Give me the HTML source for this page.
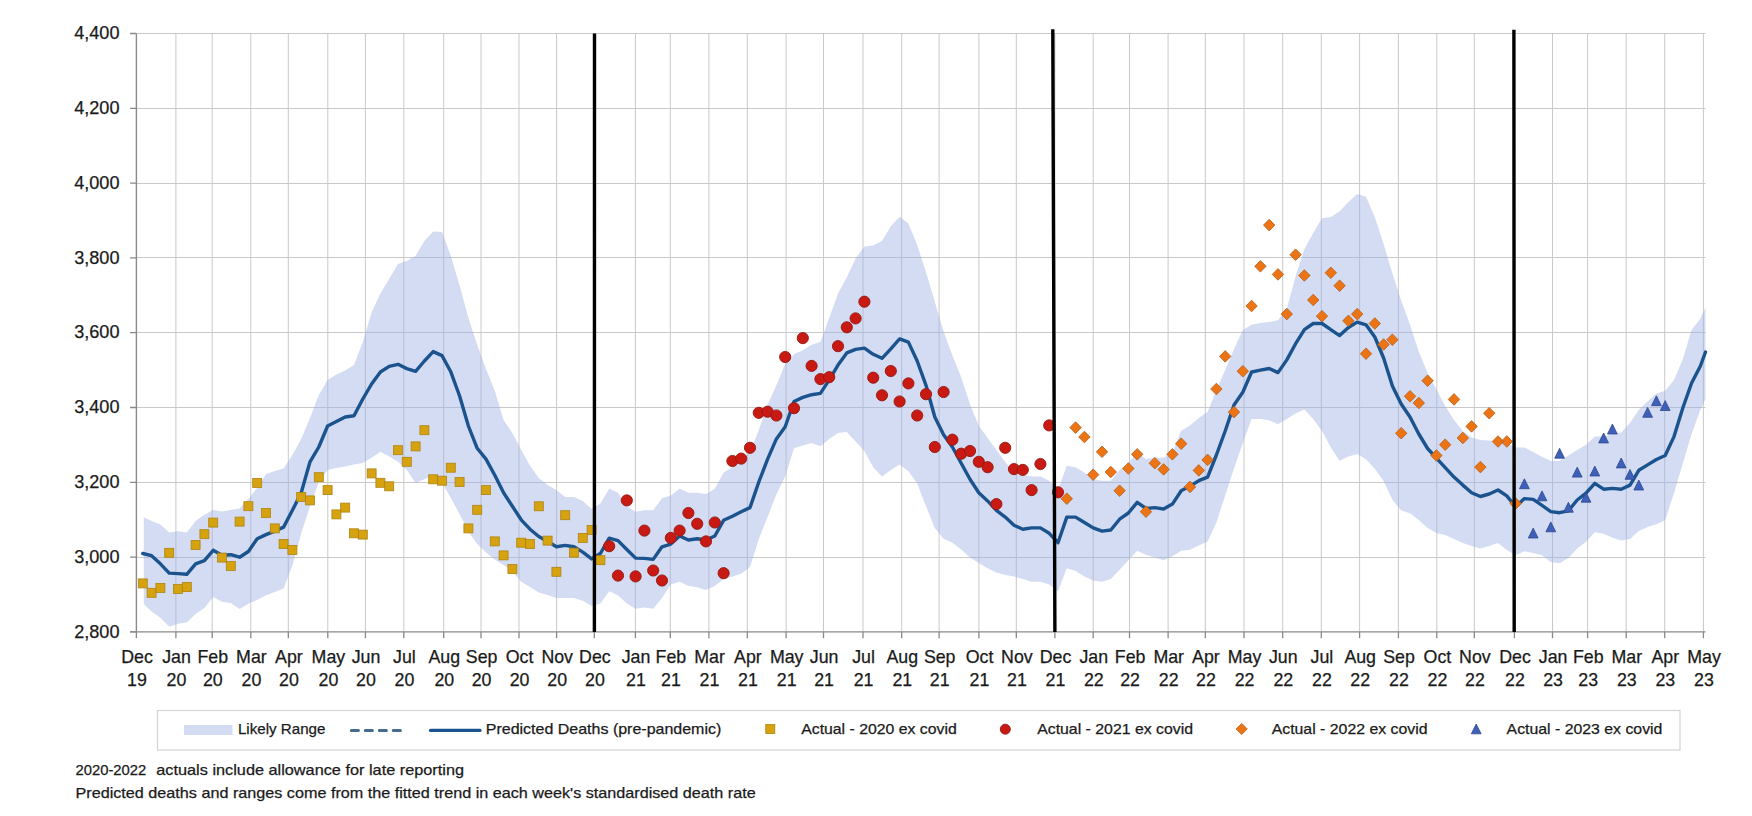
<!DOCTYPE html><html><head><meta charset="utf-8"><style>html,body{margin:0;padding:0;background:#fff;}svg{display:block;font-family:"Liberation Sans",sans-serif;}</style></head><body>
<svg width="1752" height="816" viewBox="0 0 1752 816">
<rect width="1752" height="816" fill="#fff"/>
<path d="M136.4 33.5H1705.5M136.4 108.5H1705.5M136.4 183.5H1705.5M136.4 257.5H1705.5M136.4 332.5H1705.5M136.4 407.5H1705.5M136.4 482.5H1705.5M136.4 557.5H1705.5M175.9 33.5V631.9M212.2 33.5V631.9M250.8 33.5V631.9M288.3 33.5V631.9M327.8 33.5V631.9M365.4 33.5V631.9M403.8 33.5V631.9M443.7 33.5V631.9M481.0 33.5V631.9M519.0 33.5V631.9M556.6 33.5V631.9M594.3 33.5V631.9M635.4 33.5V631.9M670.3 33.5V631.9M708.9 33.5V631.9M747.3 33.5V631.9M786.1 33.5V631.9M823.5 33.5V631.9M863.0 33.5V631.9M901.7 33.5V631.9M939.1 33.5V631.9M978.9 33.5V631.9M1016.3 33.5V631.9M1054.9 33.5V631.9M1093.2 33.5V631.9M1129.5 33.5V631.9M1168.1 33.5V631.9M1205.3 33.5V631.9M1244.0 33.5V631.9M1282.7 33.5V631.9M1321.3 33.5V631.9M1359.6 33.5V631.9M1398.4 33.5V631.9M1436.8 33.5V631.9M1474.3 33.5V631.9M1514.4 33.5V631.9M1552.5 33.5V631.9M1587.6 33.5V631.9M1626.2 33.5V631.9M1664.7 33.5V631.9M1703.4 33.5V631.9" stroke="#c9c9c9" stroke-width="1" fill="none"/>
<path d="M143.8 517.2 L151.6 520.9 L160.4 524.6 L169.2 532.6 L178.0 531.2 L186.8 532.6 L195.6 520.9 L204.4 514.8 L213.2 509.9 L222.0 511.6 L230.8 509.9 L239.6 508.6 L248.4 499.0 L257.2 488.0 L266.0 474.0 L274.8 471.0 L283.6 468.5 L292.4 455.0 L301.2 438.9 L310.0 418.0 L318.8 395.0 L327.6 380.0 L336.4 374.5 L345.2 370.5 L354.0 365.0 L362.8 342.0 L371.6 312.5 L380.4 293.6 L389.2 278.8 L398.0 264.0 L406.8 261.0 L415.6 255.8 L424.4 241.0 L433.2 231.6 L442.0 232.0 L450.8 255.8 L459.6 285.5 L468.4 317.9 L477.2 344.8 L486.0 369.0 L494.8 390.7 L503.6 420.0 L512.4 433.0 L521.2 449.7 L530.0 465.8 L538.8 478.0 L547.6 485.0 L556.4 490.1 L565.2 496.9 L574.0 496.9 L582.8 500.9 L591.6 509.0 L600.4 503.6 L609.2 488.8 L618.0 492.8 L626.8 506.3 L635.6 511.7 L644.4 510.3 L653.2 510.3 L662.0 498.2 L670.8 495.5 L679.6 488.8 L688.4 492.8 L697.2 492.8 L706.0 494.2 L714.8 488.8 L723.6 472.6 L732.4 467.2 L741.2 457.8 L750.0 452.4 L758.8 430.0 L767.6 405.0 L776.4 385.3 L785.2 363.7 L794.0 354.3 L802.8 350.2 L811.6 344.8 L820.4 342.1 L829.2 317.9 L838.0 293.6 L846.8 277.4 L855.6 258.5 L864.4 246.4 L873.2 245.6 L882.0 241.0 L890.8 226.2 L899.6 216.7 L908.4 223.5 L917.2 245.1 L926.0 272.0 L934.8 301.7 L943.6 331.4 L952.4 355.6 L961.2 377.2 L970.0 404.2 L978.8 425.7 L987.6 438.0 L996.4 450.0 L1005.2 462.0 L1014.0 472.6 L1022.8 475.3 L1031.6 476.6 L1040.4 476.6 L1049.2 480.7 L1058.0 490.1 L1066.8 465.8 L1075.6 467.2 L1084.4 472.6 L1093.2 479.3 L1102.0 480.7 L1110.8 480.7 L1119.6 469.9 L1128.4 463.2 L1137.2 452.4 L1146.0 459.1 L1154.8 457.8 L1163.6 457.8 L1172.4 452.4 L1181.2 430.8 L1190.0 425.4 L1198.8 418.0 L1207.6 412.1 L1216.4 390.0 L1225.2 370.0 L1234.0 349.1 L1242.8 330.0 L1251.6 324.8 L1260.4 323.0 L1269.2 322.0 L1278.0 320.3 L1286.8 308.7 L1295.6 276.3 L1304.4 249.3 L1313.2 233.1 L1322.0 218.3 L1330.8 217.0 L1339.6 211.6 L1348.4 202.1 L1357.2 194.0 L1366.0 196.7 L1374.8 217.0 L1383.6 243.9 L1392.4 273.6 L1401.2 300.6 L1410.0 324.8 L1418.8 351.8 L1427.6 373.0 L1436.4 389.4 L1445.2 406.0 L1454.0 420.0 L1462.8 431.0 L1471.6 437.5 L1480.4 440.0 L1489.2 440.5 L1498.0 441.5 L1506.8 443.0 L1515.6 447.4 L1524.4 447.4 L1533.2 452.0 L1542.0 456.8 L1550.8 460.9 L1559.6 460.9 L1568.4 455.5 L1577.2 450.1 L1586.0 444.7 L1594.8 436.6 L1603.6 436.6 L1612.4 433.9 L1621.2 432.6 L1630.0 423.1 L1638.8 409.7 L1647.6 401.6 L1656.4 393.5 L1665.2 390.8 L1674.0 380.0 L1682.8 358.9 L1691.6 330.0 L1700.4 318.6 L1705.5 307.5 L1705.5 399.0 L1700.4 409.7 L1691.6 433.9 L1682.8 463.6 L1674.0 493.2 L1665.2 520.2 L1656.4 524.2 L1647.6 527.0 L1638.8 531.0 L1630.0 539.1 L1621.2 540.4 L1612.4 537.7 L1603.6 533.7 L1594.8 532.3 L1586.0 541.8 L1577.2 548.5 L1568.4 558.0 L1559.6 563.3 L1550.8 562.0 L1542.0 555.2 L1533.2 553.0 L1524.4 551.2 L1515.6 555.2 L1506.8 550.0 L1498.0 543.1 L1489.2 546.0 L1480.4 548.5 L1471.6 546.0 L1462.8 543.1 L1454.0 539.0 L1445.2 535.0 L1436.4 533.0 L1427.6 528.1 L1418.8 520.0 L1410.0 513.3 L1401.2 510.6 L1392.4 499.8 L1383.6 480.9 L1374.8 468.8 L1366.0 459.3 L1357.2 453.9 L1348.4 456.6 L1339.6 460.7 L1330.8 447.2 L1322.0 431.0 L1313.2 418.9 L1304.4 409.4 L1295.6 413.5 L1286.8 418.9 L1278.0 424.3 L1269.2 420.2 L1260.4 418.9 L1251.6 419.0 L1242.8 443.0 L1234.0 468.5 L1225.2 495.5 L1216.4 522.5 L1207.6 541.4 L1198.8 545.4 L1190.0 549.7 L1181.2 550.8 L1172.4 556.2 L1163.6 560.2 L1154.8 557.5 L1146.0 554.8 L1137.2 550.8 L1128.4 560.2 L1119.6 569.7 L1110.8 579.1 L1102.0 581.8 L1093.2 580.5 L1084.4 576.4 L1075.6 571.0 L1066.8 568.3 L1058.0 591.2 L1049.2 584.5 L1040.4 581.8 L1031.6 581.8 L1022.8 579.1 L1014.0 576.4 L1005.2 575.0 L996.4 572.4 L987.6 568.3 L978.8 562.9 L970.0 557.5 L961.2 549.5 L952.4 542.7 L943.6 538.7 L934.8 527.9 L926.0 506.3 L917.2 483.4 L908.4 471.2 L899.6 464.5 L890.8 469.9 L882.0 476.6 L873.2 467.2 L864.4 451.0 L855.6 441.6 L846.8 432.1 L838.0 432.9 L829.2 438.9 L820.4 446.2 L811.6 442.9 L802.8 445.6 L794.0 448.3 L785.2 476.6 L776.4 494.2 L767.6 517.1 L758.8 539.0 L750.0 567.0 L741.2 573.7 L732.4 576.4 L723.6 579.1 L714.8 585.9 L706.0 589.9 L697.2 587.2 L688.4 585.9 L679.6 581.8 L670.8 584.5 L662.0 598.0 L653.2 608.8 L644.4 607.4 L635.6 608.8 L626.8 603.4 L618.0 595.3 L609.2 591.2 L600.4 603.4 L591.6 606.0 L582.8 600.7 L574.0 598.0 L565.2 598.0 L556.4 598.0 L547.6 595.0 L538.8 592.6 L530.0 587.0 L521.2 581.8 L512.4 571.5 L503.6 565.0 L494.8 559.5 L486.0 552.5 L477.2 544.0 L468.4 531.4 L459.6 514.0 L450.8 498.0 L442.0 482.0 L433.2 475.3 L424.4 479.3 L415.6 483.0 L406.8 470.0 L398.0 461.8 L389.2 456.4 L380.4 451.8 L371.6 457.8 L362.8 463.0 L354.0 464.5 L345.2 466.4 L336.4 468.0 L327.6 470.0 L318.8 482.0 L310.0 506.3 L301.2 533.3 L292.4 565.6 L283.6 588.6 L274.8 592.0 L266.0 595.3 L257.2 600.0 L248.4 603.7 L239.6 609.1 L230.8 603.0 L222.0 601.8 L213.2 596.9 L204.4 607.9 L195.6 614.0 L186.8 622.6 L178.0 623.8 L169.2 626.8 L160.4 617.7 L151.6 611.6 L143.8 604.2 Z" fill="#9bafe1" fill-opacity="0.44"/>
<path d="M136.4 33.5V631.9 M130 631.9H1705.5" stroke="#8a8a8a" stroke-width="1.4" fill="none"/>
<path d="M130 33.5H136.4M130 108.3H136.4M130 183.1H136.4M130 257.9H136.4M130 332.7H136.4M130 407.5H136.4M130 482.3H136.4M130 557.1H136.4M130 631.9H136.4M136.4 631.9V638.3M175.9 631.9V638.3M212.2 631.9V638.3M250.8 631.9V638.3M288.3 631.9V638.3M327.8 631.9V638.3M365.4 631.9V638.3M403.8 631.9V638.3M443.7 631.9V638.3M481.0 631.9V638.3M519.0 631.9V638.3M556.6 631.9V638.3M594.3 631.9V638.3M635.4 631.9V638.3M670.3 631.9V638.3M708.9 631.9V638.3M747.3 631.9V638.3M786.1 631.9V638.3M823.5 631.9V638.3M863.0 631.9V638.3M901.7 631.9V638.3M939.1 631.9V638.3M978.9 631.9V638.3M1016.3 631.9V638.3M1054.9 631.9V638.3M1093.2 631.9V638.3M1129.5 631.9V638.3M1168.1 631.9V638.3M1205.3 631.9V638.3M1244.0 631.9V638.3M1282.7 631.9V638.3M1321.3 631.9V638.3M1359.6 631.9V638.3M1398.4 631.9V638.3M1436.8 631.9V638.3M1474.3 631.9V638.3M1514.4 631.9V638.3M1552.5 631.9V638.3M1587.6 631.9V638.3M1626.2 631.9V638.3M1664.7 631.9V638.3M1703.4 631.9V638.3" stroke="#8a8a8a" stroke-width="1.3" fill="none"/>
<path d="M142.8 553.5 L151.6 555.7 L160.4 563.8 L169.2 573.1 L178.0 573.6 L186.8 574.3 L195.6 563.8 L204.4 560.6 L213.2 550.3 L222.0 555.2 L230.8 554.7 L239.6 557.2 L248.4 551.5 L257.2 538.7 L266.0 534.6 L274.8 531.1 L283.6 527.1 L292.4 510.3 L301.2 492.8 L310.0 461.8 L318.8 447.0 L327.6 426.0 L336.4 421.5 L345.2 417.0 L354.0 415.8 L362.8 399.0 L371.6 384.0 L380.4 372.0 L389.2 366.4 L398.0 364.3 L406.8 368.6 L415.6 371.3 L424.4 361.0 L433.2 351.6 L442.0 355.6 L450.8 371.8 L459.6 396.0 L468.4 426.0 L477.2 448.3 L486.0 459.1 L494.8 475.3 L503.6 492.8 L512.4 506.3 L521.2 519.8 L530.0 529.2 L538.8 536.5 L547.6 541.4 L556.4 546.8 L565.2 545.4 L574.0 546.8 L582.8 552.1 L591.6 558.9 L600.4 553.5 L609.2 538.1 L618.0 540.6 L626.8 549.5 L635.6 558.1 L644.4 558.4 L653.2 559.4 L662.0 546.8 L670.8 544.1 L679.6 536.0 L688.4 540.0 L697.2 538.7 L706.0 540.0 L714.8 536.0 L723.6 520.3 L732.4 516.3 L741.2 511.7 L750.0 507.6 L758.8 482.0 L767.6 459.1 L776.4 438.9 L785.2 426.7 L794.0 401.5 L802.8 397.4 L811.6 394.7 L820.4 393.4 L829.2 379.9 L838.0 365.1 L846.8 352.9 L855.6 349.4 L864.4 348.1 L873.2 354.3 L882.0 358.3 L890.8 348.9 L899.6 338.9 L908.4 342.1 L917.2 361.0 L926.0 385.3 L934.8 417.0 L943.6 434.8 L952.4 447.0 L961.2 463.2 L970.0 479.3 L978.8 492.8 L987.6 500.9 L996.4 510.3 L1005.2 517.1 L1014.0 525.2 L1022.8 529.2 L1031.6 527.9 L1040.4 527.9 L1049.2 533.3 L1058.0 542.7 L1066.8 517.1 L1075.6 517.1 L1084.4 522.5 L1093.2 527.9 L1102.0 531.1 L1110.8 530.0 L1119.6 519.2 L1128.4 513.0 L1137.2 502.3 L1146.0 508.5 L1154.8 507.6 L1163.6 509.0 L1172.4 504.1 L1181.2 490.7 L1190.0 486.1 L1198.8 480.7 L1207.6 477.2 L1216.4 455.0 L1225.2 431.0 L1234.0 405.0 L1242.8 392.3 L1251.6 372.0 L1260.4 370.2 L1269.2 368.5 L1278.0 372.6 L1286.8 359.9 L1295.6 343.7 L1304.4 329.7 L1313.2 323.5 L1322.0 323.5 L1330.8 329.7 L1339.6 335.6 L1348.4 327.5 L1357.2 322.1 L1366.0 324.8 L1374.8 337.0 L1383.6 358.0 L1392.4 386.0 L1401.2 404.0 L1410.0 417.0 L1418.8 434.0 L1427.6 448.5 L1436.4 458.2 L1445.2 467.6 L1454.0 477.1 L1462.8 485.1 L1471.6 492.7 L1480.4 496.5 L1489.2 494.0 L1498.0 490.0 L1506.8 495.9 L1515.6 506.7 L1524.4 498.6 L1533.2 499.4 L1542.0 505.4 L1550.8 511.6 L1559.6 512.7 L1568.4 510.8 L1577.2 500.0 L1586.0 493.2 L1594.8 483.3 L1603.6 489.2 L1612.4 488.4 L1621.2 489.2 L1630.0 485.1 L1638.8 470.3 L1647.6 464.9 L1656.4 459.5 L1665.2 455.5 L1674.0 436.6 L1682.8 408.0 L1691.6 383.0 L1700.4 366.0 L1705.5 352.0" stroke="#1b538e" stroke-width="3.4" fill="none" stroke-linejoin="round" stroke-linecap="round"/>
<g fill="#d6a210" stroke="#ad8412" stroke-width="0.8"><rect x="138.3" y="578.9" width="9" height="9"/><rect x="147.1" y="588.3" width="9" height="9"/><rect x="155.9" y="583.4" width="9" height="9"/><rect x="164.7" y="548.3" width="9" height="9"/><rect x="173.5" y="584.6" width="9" height="9"/><rect x="182.3" y="582.6" width="9" height="9"/><rect x="191.1" y="540.5" width="9" height="9"/><rect x="199.9" y="529.7" width="9" height="9"/><rect x="208.7" y="518.1" width="9" height="9"/><rect x="217.5" y="553.1" width="9" height="9"/><rect x="226.3" y="561.5" width="9" height="9"/><rect x="235.1" y="517.1" width="9" height="9"/><rect x="243.9" y="501.7" width="9" height="9"/><rect x="252.7" y="478.4" width="9" height="9"/><rect x="261.5" y="508.5" width="9" height="9"/><rect x="270.3" y="523.9" width="9" height="9"/><rect x="279.1" y="539.5" width="9" height="9"/><rect x="287.9" y="545.5" width="9" height="9"/><rect x="296.7" y="492.4" width="9" height="9"/><rect x="305.5" y="495.9" width="9" height="9"/><rect x="314.3" y="472.7" width="9" height="9"/><rect x="323.1" y="485.6" width="9" height="9"/><rect x="331.9" y="509.9" width="9" height="9"/><rect x="340.7" y="503.1" width="9" height="9"/><rect x="349.5" y="528.8" width="9" height="9"/><rect x="358.3" y="530.1" width="9" height="9"/><rect x="367.1" y="468.9" width="9" height="9"/><rect x="375.9" y="478.3" width="9" height="9"/><rect x="384.7" y="481.8" width="9" height="9"/><rect x="393.5" y="445.7" width="9" height="9"/><rect x="402.3" y="457.3" width="9" height="9"/><rect x="411.1" y="441.9" width="9" height="9"/><rect x="419.9" y="425.7" width="9" height="9"/><rect x="428.7" y="474.8" width="9" height="9"/><rect x="437.5" y="476.2" width="9" height="9"/><rect x="446.3" y="463.2" width="9" height="9"/><rect x="455.1" y="477.5" width="9" height="9"/><rect x="463.9" y="523.9" width="9" height="9"/><rect x="472.7" y="505.3" width="9" height="9"/><rect x="481.5" y="485.6" width="9" height="9"/><rect x="490.3" y="536.9" width="9" height="9"/><rect x="499.1" y="550.9" width="9" height="9"/><rect x="507.9" y="564.6" width="9" height="9"/><rect x="516.7" y="538.2" width="9" height="9"/><rect x="525.5" y="539.6" width="9" height="9"/><rect x="534.3" y="501.8" width="9" height="9"/><rect x="543.1" y="536.1" width="9" height="9"/><rect x="551.9" y="567.3" width="9" height="9"/><rect x="560.7" y="510.7" width="9" height="9"/><rect x="569.5" y="548.2" width="9" height="9"/><rect x="578.3" y="533.4" width="9" height="9"/><rect x="587.1" y="525.5" width="9" height="9"/><rect x="595.9" y="555.7" width="9" height="9"/></g>
<g fill="#c81a12" stroke="#921812" stroke-width="0.9"><circle cx="609.2" cy="546.2" r="5.6"/><circle cx="618.0" cy="575.6" r="5.6"/><circle cx="626.8" cy="500.4" r="5.6"/><circle cx="635.6" cy="576.4" r="5.6"/><circle cx="644.4" cy="530.6" r="5.6"/><circle cx="653.2" cy="570.5" r="5.6"/><circle cx="662.0" cy="580.5" r="5.6"/><circle cx="670.8" cy="537.9" r="5.6"/><circle cx="679.6" cy="530.6" r="5.6"/><circle cx="688.4" cy="513.0" r="5.6"/><circle cx="697.2" cy="523.8" r="5.6"/><circle cx="706.0" cy="541.4" r="5.6"/><circle cx="714.8" cy="522.5" r="5.6"/><circle cx="723.6" cy="573.2" r="5.6"/><circle cx="732.4" cy="461.0" r="5.6"/><circle cx="741.2" cy="458.6" r="5.6"/><circle cx="750.0" cy="447.8" r="5.6"/><circle cx="758.8" cy="412.8" r="5.6"/><circle cx="767.6" cy="411.7" r="5.6"/><circle cx="776.4" cy="415.5" r="5.6"/><circle cx="785.2" cy="357.0" r="5.6"/><circle cx="794.0" cy="408.2" r="5.6"/><circle cx="802.8" cy="338.1" r="5.6"/><circle cx="811.6" cy="365.9" r="5.6"/><circle cx="820.4" cy="379.1" r="5.6"/><circle cx="829.2" cy="377.2" r="5.6"/><circle cx="838.0" cy="346.2" r="5.6"/><circle cx="846.8" cy="327.3" r="5.6"/><circle cx="855.6" cy="318.4" r="5.6"/><circle cx="864.4" cy="301.7" r="5.6"/><circle cx="873.2" cy="377.7" r="5.6"/><circle cx="882.0" cy="395.3" r="5.6"/><circle cx="890.8" cy="371.0" r="5.6"/><circle cx="899.6" cy="401.5" r="5.6"/><circle cx="908.4" cy="383.4" r="5.6"/><circle cx="917.2" cy="415.5" r="5.6"/><circle cx="926.0" cy="394.2" r="5.6"/><circle cx="934.8" cy="447.0" r="5.6"/><circle cx="943.6" cy="392.0" r="5.6"/><circle cx="952.4" cy="439.7" r="5.6"/><circle cx="961.2" cy="453.7" r="5.6"/><circle cx="970.0" cy="451.0" r="5.6"/><circle cx="978.8" cy="461.8" r="5.6"/><circle cx="987.6" cy="467.2" r="5.6"/><circle cx="996.4" cy="504.1" r="5.6"/><circle cx="1005.2" cy="447.8" r="5.6"/><circle cx="1014.0" cy="469.1" r="5.6"/><circle cx="1022.8" cy="469.9" r="5.6"/><circle cx="1031.6" cy="490.1" r="5.6"/><circle cx="1040.4" cy="464.0" r="5.6"/><circle cx="1049.2" cy="425.4" r="5.6"/><circle cx="1058.0" cy="492.3" r="5.6"/></g>
<path d="M1066.8 492.9L1072.5 498.7L1066.8 504.5L1061.1 498.7ZM1075.6 421.8L1081.3 427.6L1075.6 433.4L1069.9 427.6ZM1084.4 431.2L1090.1 437.0L1084.4 442.8L1078.7 437.0ZM1093.2 468.9L1098.9 474.7L1093.2 480.5L1087.5 474.7ZM1102.0 446.0L1107.7 451.8L1102.0 457.6L1096.3 451.8ZM1110.8 466.2L1116.5 472.0L1110.8 477.8L1105.1 472.0ZM1119.6 484.9L1125.3 490.7L1119.6 496.5L1113.9 490.7ZM1128.4 462.7L1134.1 468.5L1128.4 474.3L1122.7 468.5ZM1137.2 448.5L1142.9 454.3L1137.2 460.1L1131.5 454.3ZM1146.0 505.9L1151.7 511.7L1146.0 517.5L1140.3 511.7ZM1154.8 457.4L1160.5 463.2L1154.8 469.0L1149.1 463.2ZM1163.6 463.6L1169.3 469.4L1163.6 475.2L1157.9 469.4ZM1172.4 448.5L1178.1 454.3L1172.4 460.1L1166.7 454.3ZM1181.2 437.9L1186.9 443.7L1181.2 449.5L1175.5 443.7ZM1190.0 481.1L1195.7 486.9L1190.0 492.7L1184.3 486.9ZM1198.8 464.6L1204.5 470.4L1198.8 476.2L1193.1 470.4ZM1207.6 454.1L1213.3 459.9L1207.6 465.7L1201.9 459.9ZM1216.4 383.2L1222.1 389.0L1216.4 394.8L1210.7 389.0ZM1225.2 350.6L1230.9 356.4L1225.2 362.2L1219.5 356.4ZM1234.0 406.3L1239.7 412.1L1234.0 417.9L1228.3 412.1ZM1242.8 365.4L1248.5 371.2L1242.8 377.0L1237.1 371.2ZM1251.6 300.2L1257.3 306.0L1251.6 311.8L1245.9 306.0ZM1260.4 260.5L1266.1 266.3L1260.4 272.1L1254.7 266.3ZM1269.2 219.3L1274.9 225.1L1269.2 230.9L1263.5 225.1ZM1278.0 268.6L1283.7 274.4L1278.0 280.2L1272.3 274.4ZM1286.8 308.3L1292.5 314.1L1286.8 319.9L1281.1 314.1ZM1295.6 248.9L1301.3 254.7L1295.6 260.5L1289.9 254.7ZM1304.4 269.7L1310.1 275.5L1304.4 281.3L1298.7 275.5ZM1313.2 294.2L1318.9 300.0L1313.2 305.8L1307.5 300.0ZM1322.0 310.4L1327.7 316.2L1322.0 322.0L1316.3 316.2ZM1330.8 267.0L1336.5 272.8L1330.8 278.6L1325.1 272.8ZM1339.6 279.9L1345.3 285.7L1339.6 291.5L1333.9 285.7ZM1348.4 315.0L1354.1 320.8L1348.4 326.6L1342.7 320.8ZM1357.2 308.3L1362.9 314.1L1357.2 319.9L1351.5 314.1ZM1366.0 347.9L1371.7 353.7L1366.0 359.5L1360.3 353.7ZM1374.8 317.7L1380.5 323.5L1374.8 329.3L1369.1 323.5ZM1383.6 338.7L1389.3 344.5L1383.6 350.3L1377.9 344.5ZM1392.4 333.9L1398.1 339.7L1392.4 345.5L1386.7 339.7ZM1401.2 427.4L1406.9 433.2L1401.2 439.0L1395.5 433.2ZM1410.0 390.5L1415.7 396.3L1410.0 402.1L1404.3 396.3ZM1418.8 397.2L1424.5 403.0L1418.8 408.8L1413.1 403.0ZM1427.6 374.9L1433.3 380.7L1427.6 386.5L1421.9 380.7ZM1436.4 449.7L1442.1 455.5L1436.4 461.3L1430.7 455.5ZM1445.2 438.9L1450.9 444.7L1445.2 450.5L1439.5 444.7ZM1454.0 393.6L1459.7 399.4L1454.0 405.2L1448.3 399.4ZM1462.8 432.2L1468.5 438.0L1462.8 443.8L1457.1 438.0ZM1471.6 420.6L1477.3 426.4L1471.6 432.2L1465.9 426.4ZM1480.4 461.3L1486.1 467.1L1480.4 472.9L1474.7 467.1ZM1489.2 407.4L1494.9 413.2L1489.2 419.0L1483.5 413.2ZM1498.0 435.7L1503.7 441.5L1498.0 447.3L1492.3 441.5ZM1506.8 435.7L1512.5 441.5L1506.8 447.3L1501.1 441.5ZM1515.6 497.7L1521.3 503.5L1515.6 509.3L1509.9 503.5Z" fill="#ec7414" stroke="#b35e1c" stroke-width="0.8" stroke-linejoin="miter"/>
<path d="M1524.4 478.8L1529.3 488.7L1519.5 488.7ZM1533.2 528.1L1538.1 538.0L1528.3 538.0ZM1542.0 490.9L1546.9 500.8L1537.1 500.8ZM1550.8 521.9L1555.7 531.8L1545.9 531.8ZM1559.6 448.3L1564.5 458.2L1554.7 458.2ZM1568.4 502.3L1573.3 512.2L1563.5 512.2ZM1577.2 467.2L1582.1 477.1L1572.3 477.1ZM1586.0 492.3L1590.9 502.2L1581.1 502.2ZM1594.8 466.1L1599.7 476.0L1589.9 476.0ZM1603.6 433.0L1608.5 442.9L1598.7 442.9ZM1612.4 424.1L1617.3 434.0L1607.5 434.0ZM1621.2 458.0L1626.1 467.9L1616.3 467.9ZM1630.0 469.4L1634.9 479.3L1625.1 479.3ZM1638.8 480.1L1643.7 490.0L1633.9 490.0ZM1647.6 407.4L1652.5 417.3L1642.7 417.3ZM1656.4 395.8L1661.3 405.7L1651.5 405.7ZM1665.2 400.6L1670.1 410.5L1660.3 410.5Z" fill="#3e60b9" stroke="#2c478f" stroke-width="0.8" stroke-linejoin="miter"/>
<path d="M594.5 33.4L594.4 632M1052.8 29.2L1054.9 632M1513.9 29.7L1514.2 632" stroke="#000" stroke-width="3.4" fill="none"/>
<text x="119.5" y="39.2" font-size="18.1" fill="#1a1a1a" stroke="#1a1a1a" stroke-width="0.25" text-anchor="end">4,400</text>
<text x="119.5" y="114.0" font-size="18.1" fill="#1a1a1a" stroke="#1a1a1a" stroke-width="0.25" text-anchor="end">4,200</text>
<text x="119.5" y="188.8" font-size="18.1" fill="#1a1a1a" stroke="#1a1a1a" stroke-width="0.25" text-anchor="end">4,000</text>
<text x="119.5" y="263.6" font-size="18.1" fill="#1a1a1a" stroke="#1a1a1a" stroke-width="0.25" text-anchor="end">3,800</text>
<text x="119.5" y="338.4" font-size="18.1" fill="#1a1a1a" stroke="#1a1a1a" stroke-width="0.25" text-anchor="end">3,600</text>
<text x="119.5" y="413.2" font-size="18.1" fill="#1a1a1a" stroke="#1a1a1a" stroke-width="0.25" text-anchor="end">3,400</text>
<text x="119.5" y="488.0" font-size="18.1" fill="#1a1a1a" stroke="#1a1a1a" stroke-width="0.25" text-anchor="end">3,200</text>
<text x="119.5" y="562.8" font-size="18.1" fill="#1a1a1a" stroke="#1a1a1a" stroke-width="0.25" text-anchor="end">3,000</text>
<text x="119.5" y="637.6" font-size="18.1" fill="#1a1a1a" stroke="#1a1a1a" stroke-width="0.25" text-anchor="end">2,800</text>
<text x="137.0" y="663" font-size="17.8" fill="#1a1a1a" stroke="#1a1a1a" stroke-width="0.25" text-anchor="middle">Dec</text>
<text x="137.0" y="685.6" font-size="17.8" fill="#1a1a1a" stroke="#1a1a1a" stroke-width="0.25" text-anchor="middle">19</text>
<text x="176.5" y="663" font-size="17.8" fill="#1a1a1a" stroke="#1a1a1a" stroke-width="0.25" text-anchor="middle">Jan</text>
<text x="176.5" y="685.6" font-size="17.8" fill="#1a1a1a" stroke="#1a1a1a" stroke-width="0.25" text-anchor="middle">20</text>
<text x="212.8" y="663" font-size="17.8" fill="#1a1a1a" stroke="#1a1a1a" stroke-width="0.25" text-anchor="middle">Feb</text>
<text x="212.8" y="685.6" font-size="17.8" fill="#1a1a1a" stroke="#1a1a1a" stroke-width="0.25" text-anchor="middle">20</text>
<text x="251.4" y="663" font-size="17.8" fill="#1a1a1a" stroke="#1a1a1a" stroke-width="0.25" text-anchor="middle">Mar</text>
<text x="251.4" y="685.6" font-size="17.8" fill="#1a1a1a" stroke="#1a1a1a" stroke-width="0.25" text-anchor="middle">20</text>
<text x="288.9" y="663" font-size="17.8" fill="#1a1a1a" stroke="#1a1a1a" stroke-width="0.25" text-anchor="middle">Apr</text>
<text x="288.9" y="685.6" font-size="17.8" fill="#1a1a1a" stroke="#1a1a1a" stroke-width="0.25" text-anchor="middle">20</text>
<text x="328.4" y="663" font-size="17.8" fill="#1a1a1a" stroke="#1a1a1a" stroke-width="0.25" text-anchor="middle">May</text>
<text x="328.4" y="685.6" font-size="17.8" fill="#1a1a1a" stroke="#1a1a1a" stroke-width="0.25" text-anchor="middle">20</text>
<text x="366.0" y="663" font-size="17.8" fill="#1a1a1a" stroke="#1a1a1a" stroke-width="0.25" text-anchor="middle">Jun</text>
<text x="366.0" y="685.6" font-size="17.8" fill="#1a1a1a" stroke="#1a1a1a" stroke-width="0.25" text-anchor="middle">20</text>
<text x="404.4" y="663" font-size="17.8" fill="#1a1a1a" stroke="#1a1a1a" stroke-width="0.25" text-anchor="middle">Jul</text>
<text x="404.4" y="685.6" font-size="17.8" fill="#1a1a1a" stroke="#1a1a1a" stroke-width="0.25" text-anchor="middle">20</text>
<text x="444.3" y="663" font-size="17.8" fill="#1a1a1a" stroke="#1a1a1a" stroke-width="0.25" text-anchor="middle">Aug</text>
<text x="444.3" y="685.6" font-size="17.8" fill="#1a1a1a" stroke="#1a1a1a" stroke-width="0.25" text-anchor="middle">20</text>
<text x="481.6" y="663" font-size="17.8" fill="#1a1a1a" stroke="#1a1a1a" stroke-width="0.25" text-anchor="middle">Sep</text>
<text x="481.6" y="685.6" font-size="17.8" fill="#1a1a1a" stroke="#1a1a1a" stroke-width="0.25" text-anchor="middle">20</text>
<text x="519.6" y="663" font-size="17.8" fill="#1a1a1a" stroke="#1a1a1a" stroke-width="0.25" text-anchor="middle">Oct</text>
<text x="519.6" y="685.6" font-size="17.8" fill="#1a1a1a" stroke="#1a1a1a" stroke-width="0.25" text-anchor="middle">20</text>
<text x="557.2" y="663" font-size="17.8" fill="#1a1a1a" stroke="#1a1a1a" stroke-width="0.25" text-anchor="middle">Nov</text>
<text x="557.2" y="685.6" font-size="17.8" fill="#1a1a1a" stroke="#1a1a1a" stroke-width="0.25" text-anchor="middle">20</text>
<text x="594.9" y="663" font-size="17.8" fill="#1a1a1a" stroke="#1a1a1a" stroke-width="0.25" text-anchor="middle">Dec</text>
<text x="594.9" y="685.6" font-size="17.8" fill="#1a1a1a" stroke="#1a1a1a" stroke-width="0.25" text-anchor="middle">20</text>
<text x="636.0" y="663" font-size="17.8" fill="#1a1a1a" stroke="#1a1a1a" stroke-width="0.25" text-anchor="middle">Jan</text>
<text x="636.0" y="685.6" font-size="17.8" fill="#1a1a1a" stroke="#1a1a1a" stroke-width="0.25" text-anchor="middle">21</text>
<text x="670.9" y="663" font-size="17.8" fill="#1a1a1a" stroke="#1a1a1a" stroke-width="0.25" text-anchor="middle">Feb</text>
<text x="670.9" y="685.6" font-size="17.8" fill="#1a1a1a" stroke="#1a1a1a" stroke-width="0.25" text-anchor="middle">21</text>
<text x="709.5" y="663" font-size="17.8" fill="#1a1a1a" stroke="#1a1a1a" stroke-width="0.25" text-anchor="middle">Mar</text>
<text x="709.5" y="685.6" font-size="17.8" fill="#1a1a1a" stroke="#1a1a1a" stroke-width="0.25" text-anchor="middle">21</text>
<text x="747.9" y="663" font-size="17.8" fill="#1a1a1a" stroke="#1a1a1a" stroke-width="0.25" text-anchor="middle">Apr</text>
<text x="747.9" y="685.6" font-size="17.8" fill="#1a1a1a" stroke="#1a1a1a" stroke-width="0.25" text-anchor="middle">21</text>
<text x="786.7" y="663" font-size="17.8" fill="#1a1a1a" stroke="#1a1a1a" stroke-width="0.25" text-anchor="middle">May</text>
<text x="786.7" y="685.6" font-size="17.8" fill="#1a1a1a" stroke="#1a1a1a" stroke-width="0.25" text-anchor="middle">21</text>
<text x="824.1" y="663" font-size="17.8" fill="#1a1a1a" stroke="#1a1a1a" stroke-width="0.25" text-anchor="middle">Jun</text>
<text x="824.1" y="685.6" font-size="17.8" fill="#1a1a1a" stroke="#1a1a1a" stroke-width="0.25" text-anchor="middle">21</text>
<text x="863.6" y="663" font-size="17.8" fill="#1a1a1a" stroke="#1a1a1a" stroke-width="0.25" text-anchor="middle">Jul</text>
<text x="863.6" y="685.6" font-size="17.8" fill="#1a1a1a" stroke="#1a1a1a" stroke-width="0.25" text-anchor="middle">21</text>
<text x="902.3" y="663" font-size="17.8" fill="#1a1a1a" stroke="#1a1a1a" stroke-width="0.25" text-anchor="middle">Aug</text>
<text x="902.3" y="685.6" font-size="17.8" fill="#1a1a1a" stroke="#1a1a1a" stroke-width="0.25" text-anchor="middle">21</text>
<text x="939.7" y="663" font-size="17.8" fill="#1a1a1a" stroke="#1a1a1a" stroke-width="0.25" text-anchor="middle">Sep</text>
<text x="939.7" y="685.6" font-size="17.8" fill="#1a1a1a" stroke="#1a1a1a" stroke-width="0.25" text-anchor="middle">21</text>
<text x="979.5" y="663" font-size="17.8" fill="#1a1a1a" stroke="#1a1a1a" stroke-width="0.25" text-anchor="middle">Oct</text>
<text x="979.5" y="685.6" font-size="17.8" fill="#1a1a1a" stroke="#1a1a1a" stroke-width="0.25" text-anchor="middle">21</text>
<text x="1016.9" y="663" font-size="17.8" fill="#1a1a1a" stroke="#1a1a1a" stroke-width="0.25" text-anchor="middle">Nov</text>
<text x="1016.9" y="685.6" font-size="17.8" fill="#1a1a1a" stroke="#1a1a1a" stroke-width="0.25" text-anchor="middle">21</text>
<text x="1055.5" y="663" font-size="17.8" fill="#1a1a1a" stroke="#1a1a1a" stroke-width="0.25" text-anchor="middle">Dec</text>
<text x="1055.5" y="685.6" font-size="17.8" fill="#1a1a1a" stroke="#1a1a1a" stroke-width="0.25" text-anchor="middle">21</text>
<text x="1093.8" y="663" font-size="17.8" fill="#1a1a1a" stroke="#1a1a1a" stroke-width="0.25" text-anchor="middle">Jan</text>
<text x="1093.8" y="685.6" font-size="17.8" fill="#1a1a1a" stroke="#1a1a1a" stroke-width="0.25" text-anchor="middle">22</text>
<text x="1130.1" y="663" font-size="17.8" fill="#1a1a1a" stroke="#1a1a1a" stroke-width="0.25" text-anchor="middle">Feb</text>
<text x="1130.1" y="685.6" font-size="17.8" fill="#1a1a1a" stroke="#1a1a1a" stroke-width="0.25" text-anchor="middle">22</text>
<text x="1168.7" y="663" font-size="17.8" fill="#1a1a1a" stroke="#1a1a1a" stroke-width="0.25" text-anchor="middle">Mar</text>
<text x="1168.7" y="685.6" font-size="17.8" fill="#1a1a1a" stroke="#1a1a1a" stroke-width="0.25" text-anchor="middle">22</text>
<text x="1205.9" y="663" font-size="17.8" fill="#1a1a1a" stroke="#1a1a1a" stroke-width="0.25" text-anchor="middle">Apr</text>
<text x="1205.9" y="685.6" font-size="17.8" fill="#1a1a1a" stroke="#1a1a1a" stroke-width="0.25" text-anchor="middle">22</text>
<text x="1244.6" y="663" font-size="17.8" fill="#1a1a1a" stroke="#1a1a1a" stroke-width="0.25" text-anchor="middle">May</text>
<text x="1244.6" y="685.6" font-size="17.8" fill="#1a1a1a" stroke="#1a1a1a" stroke-width="0.25" text-anchor="middle">22</text>
<text x="1283.3" y="663" font-size="17.8" fill="#1a1a1a" stroke="#1a1a1a" stroke-width="0.25" text-anchor="middle">Jun</text>
<text x="1283.3" y="685.6" font-size="17.8" fill="#1a1a1a" stroke="#1a1a1a" stroke-width="0.25" text-anchor="middle">22</text>
<text x="1321.9" y="663" font-size="17.8" fill="#1a1a1a" stroke="#1a1a1a" stroke-width="0.25" text-anchor="middle">Jul</text>
<text x="1321.9" y="685.6" font-size="17.8" fill="#1a1a1a" stroke="#1a1a1a" stroke-width="0.25" text-anchor="middle">22</text>
<text x="1360.2" y="663" font-size="17.8" fill="#1a1a1a" stroke="#1a1a1a" stroke-width="0.25" text-anchor="middle">Aug</text>
<text x="1360.2" y="685.6" font-size="17.8" fill="#1a1a1a" stroke="#1a1a1a" stroke-width="0.25" text-anchor="middle">22</text>
<text x="1399.0" y="663" font-size="17.8" fill="#1a1a1a" stroke="#1a1a1a" stroke-width="0.25" text-anchor="middle">Sep</text>
<text x="1399.0" y="685.6" font-size="17.8" fill="#1a1a1a" stroke="#1a1a1a" stroke-width="0.25" text-anchor="middle">22</text>
<text x="1437.4" y="663" font-size="17.8" fill="#1a1a1a" stroke="#1a1a1a" stroke-width="0.25" text-anchor="middle">Oct</text>
<text x="1437.4" y="685.6" font-size="17.8" fill="#1a1a1a" stroke="#1a1a1a" stroke-width="0.25" text-anchor="middle">22</text>
<text x="1474.9" y="663" font-size="17.8" fill="#1a1a1a" stroke="#1a1a1a" stroke-width="0.25" text-anchor="middle">Nov</text>
<text x="1474.9" y="685.6" font-size="17.8" fill="#1a1a1a" stroke="#1a1a1a" stroke-width="0.25" text-anchor="middle">22</text>
<text x="1515.0" y="663" font-size="17.8" fill="#1a1a1a" stroke="#1a1a1a" stroke-width="0.25" text-anchor="middle">Dec</text>
<text x="1515.0" y="685.6" font-size="17.8" fill="#1a1a1a" stroke="#1a1a1a" stroke-width="0.25" text-anchor="middle">22</text>
<text x="1553.1" y="663" font-size="17.8" fill="#1a1a1a" stroke="#1a1a1a" stroke-width="0.25" text-anchor="middle">Jan</text>
<text x="1553.1" y="685.6" font-size="17.8" fill="#1a1a1a" stroke="#1a1a1a" stroke-width="0.25" text-anchor="middle">23</text>
<text x="1588.2" y="663" font-size="17.8" fill="#1a1a1a" stroke="#1a1a1a" stroke-width="0.25" text-anchor="middle">Feb</text>
<text x="1588.2" y="685.6" font-size="17.8" fill="#1a1a1a" stroke="#1a1a1a" stroke-width="0.25" text-anchor="middle">23</text>
<text x="1626.8" y="663" font-size="17.8" fill="#1a1a1a" stroke="#1a1a1a" stroke-width="0.25" text-anchor="middle">Mar</text>
<text x="1626.8" y="685.6" font-size="17.8" fill="#1a1a1a" stroke="#1a1a1a" stroke-width="0.25" text-anchor="middle">23</text>
<text x="1665.3" y="663" font-size="17.8" fill="#1a1a1a" stroke="#1a1a1a" stroke-width="0.25" text-anchor="middle">Apr</text>
<text x="1665.3" y="685.6" font-size="17.8" fill="#1a1a1a" stroke="#1a1a1a" stroke-width="0.25" text-anchor="middle">23</text>
<text x="1704.0" y="663" font-size="17.8" fill="#1a1a1a" stroke="#1a1a1a" stroke-width="0.25" text-anchor="middle">May</text>
<text x="1704.0" y="685.6" font-size="17.8" fill="#1a1a1a" stroke="#1a1a1a" stroke-width="0.25" text-anchor="middle">23</text>
<rect x="157.5" y="710.5" width="1522.5" height="39.5" fill="#fff" stroke="#d4d4d4" stroke-width="1.2"/>
<rect x="184" y="725" width="48.5" height="10" fill="#9bafe1" fill-opacity="0.44"/>
<path d="M351.3 730.4H402" stroke="#466a90" stroke-width="3" stroke-dasharray="7.1 6.9" stroke-linecap="round" fill="none"/>
<path d="M430.5 730.4H480" stroke="#1b538e" stroke-width="3.2" stroke-linecap="round" fill="none"/>
<rect x="765.8" y="724.6" width="9" height="9" fill="#d6a210" stroke="#ad8412" stroke-width="0.8"/>
<circle cx="1005.3" cy="729.2" r="5" fill="#c81a12" stroke="#921812" stroke-width="0.9"/>
<path d="M1241.7 723.4L1247.3 729L1241.7 734.6L1236.1 729Z" fill="#ec7414" stroke="#b35e1c" stroke-width="0.8"/>
<path d="M1476.2 724L1481.1 733.8L1471.3 733.8Z" fill="#3e60b9" stroke="#2c478f" stroke-width="0.8"/>
<text x="237.9" y="734.4" font-size="14.8" fill="#1a1a1a" stroke="#1a1a1a" stroke-width="0.25" textLength="87.5" lengthAdjust="spacingAndGlyphs">Likely Range</text>
<text x="485.8" y="734.4" font-size="14.8" fill="#1a1a1a" stroke="#1a1a1a" stroke-width="0.25" textLength="235.5" lengthAdjust="spacingAndGlyphs">Predicted Deaths (pre-pandemic)</text>
<text x="801.2" y="734.4" font-size="14.8" fill="#1a1a1a" stroke="#1a1a1a" stroke-width="0.25" textLength="155.5" lengthAdjust="spacingAndGlyphs">Actual - 2020 ex covid</text>
<text x="1037.2" y="734.4" font-size="14.8" fill="#1a1a1a" stroke="#1a1a1a" stroke-width="0.25" textLength="155.8" lengthAdjust="spacingAndGlyphs">Actual - 2021 ex covid</text>
<text x="1271.7" y="734.4" font-size="14.8" fill="#1a1a1a" stroke="#1a1a1a" stroke-width="0.25" textLength="155.8" lengthAdjust="spacingAndGlyphs">Actual - 2022 ex covid</text>
<text x="1506.6" y="734.4" font-size="14.8" fill="#1a1a1a" stroke="#1a1a1a" stroke-width="0.25" textLength="155.8" lengthAdjust="spacingAndGlyphs">Actual - 2023 ex covid</text>
<text x="75.5" y="775" font-size="14.8" fill="#1a1a1a" stroke="#1a1a1a" stroke-width="0.25" textLength="70.8" lengthAdjust="spacingAndGlyphs">2020-2022</text>
<text x="156.3" y="775" font-size="14.8" fill="#1a1a1a" stroke="#1a1a1a" stroke-width="0.25" textLength="307.7" lengthAdjust="spacingAndGlyphs">actuals include allowance for late reporting</text>
<text x="75.5" y="797.5" font-size="14.8" fill="#1a1a1a" stroke="#1a1a1a" stroke-width="0.25" textLength="680.2" lengthAdjust="spacingAndGlyphs">Predicted deaths and ranges come from the fitted trend in each week's standardised death rate</text>
</svg></body></html>
